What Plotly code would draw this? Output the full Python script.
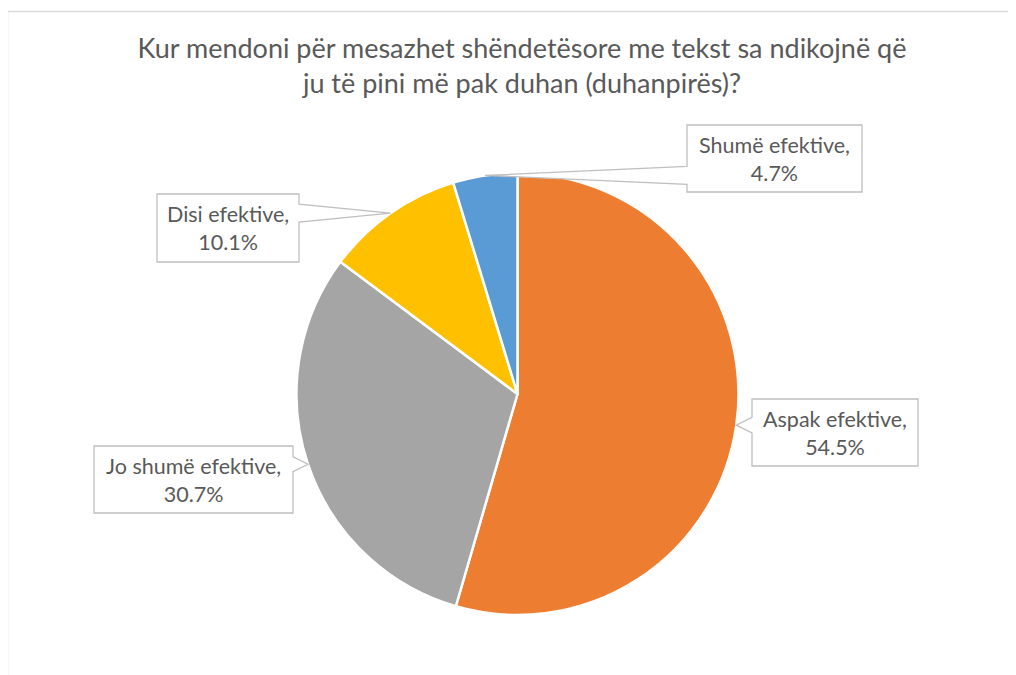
import math
import plotly.graph_objects as go

# ---- data ----
categories = ["Aspak efektive", "Jo shumë efektive", "Disi efektive", "Shumë efektive"]
values = [54.5, 30.7, 10.1, 4.7]
colors = ["#ED7D31", "#A5A5A5", "#FFC000", "#5B9BD5"]
title_text = "Kur mendoni për mesazhet shëndetësore me tekst sa ndikojnë që<br>ju të pini më pak duhan (duhanpirës)?"

# ---- layout (page pixels) ----
W, H = 1016, 675
OX, OY = 8, 8  # browser body margin
CX, CY, R = 517.5, 394.0, 221.0
# label boxes: x0, y0, x1, y1 (pixels)
boxes = [
    (752, 399, 918, 466),
    (94, 446, 293, 513),
    (157, 194, 299, 262),
    (687, 125, 862, 192),
]

def fx(px):
    return (px - OX) / W

def fy(py):
    return 1 - (py - OY) / H

fig = go.Figure()
fig.add_trace(go.Pie(
    labels=categories, values=values, sort=False, direction="clockwise", rotation=0,
    marker=dict(colors=colors, line=dict(color="white", width=2.5)),
    textinfo="none", hoverinfo="label+percent", showlegend=False,
    domain=dict(x=[fx(CX - R), fx(CX + R)], y=[fy(CY + R), fy(CY - R)]),
))

shapes = []
annotations = []
# chart frame
shapes.append(dict(type="path", xref="paper", yref="paper",
                   path=f"M {fx(7.5)},{fy(700)} L {fx(7.5)},{fy(11.5)} L {fx(1040)},{fy(11.5)}",
                   line=dict(color="#D9D9D9", width=1.5)))

total = sum(values)
cum = 0.0
for cat, v, (x0, y0, x1, y1) in zip(categories, values, boxes):
    mid = (cum + v / 2) / total * 2 * math.pi
    cum += v
    tx = CX + R * math.sin(mid)
    ty = CY - R * math.cos(mid)
    # wedge side
    if tx < x0:
        side = "left"; dist = x0 - tx
    else:
        side = "right"; dist = tx - x1
    hw = min(9.0, 0.5 * dist)
    by = min(max(ty, y0 + hw + 2), y1 - hw - 2)
    if side == "left":
        pts = [(x0, y0), (x1, y0), (x1, y1), (x0, y1), (x0, by + hw), (tx, ty), (x0, by - hw)]
    else:
        pts = [(x0, y0), (x1, y0), (x1, by - hw), (tx, ty), (x1, by + hw), (x1, y1), (x0, y1)]
    path = "M " + " L ".join(f"{fx(a):.5f},{fy(b):.5f}" for a, b in pts) + " Z"
    shapes.append(dict(type="path", xref="paper", yref="paper", path=path,
                       fillcolor="white", line=dict(color="#BFBFBF", width=1.3), layer="above"))
    annotations.append(dict(
        x=fx((x0 + x1) / 2), y=fy((y0 + y1) / 2), xref="paper", yref="paper",
        text=f"{cat},<br>{v:.1f}%", showarrow=False, align="center",
        xanchor="center", yanchor="middle",
        font=dict(family="Lato, sans-serif", size=21.5, color="#595959"),
    ))

fig.update_layout(
    width=W, height=H, margin=dict(l=0, r=0, t=0, b=0),
    paper_bgcolor="white", plot_bgcolor="white",
    title=dict(text=title_text, x=fx(522), xanchor="center", y=fy(58), yanchor="top",
               font=dict(family="Lato, sans-serif", size=27, color="#595959")),
    shapes=shapes, annotations=annotations,
)

fig.write_html("out.html")
